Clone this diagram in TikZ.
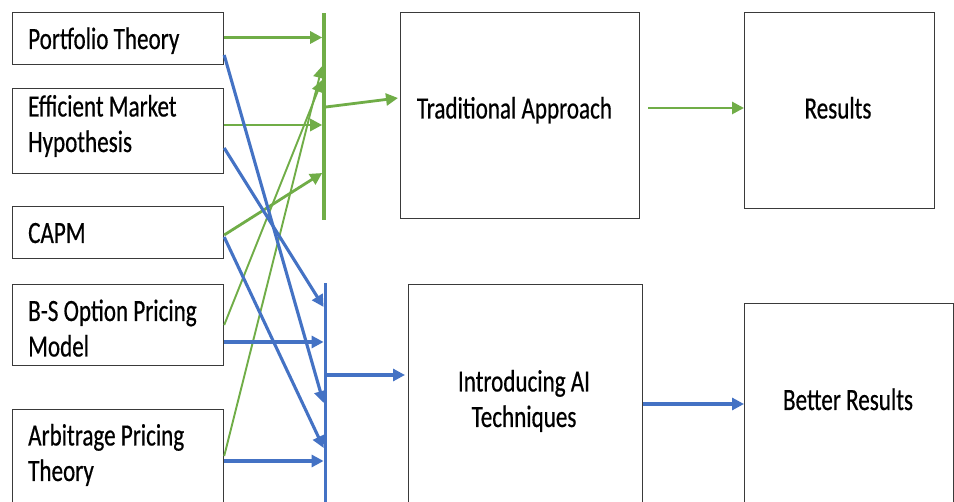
\documentclass[tikz,border=0pt]{standalone}
\usepackage{fontspec}
\setmainfont[FakeStretch=0.745,FakeBold=0.5]{Carlito}
\usetikzlibrary{arrows.meta,calc}
\definecolor{grn}{HTML}{70AD47}
\definecolor{blu}{HTML}{4472C4}
\definecolor{framec}{HTML}{3A3A3A}

\begin{document}
\begin{tikzpicture}[x=1pt,y={(0pt,-1pt)},
  box/.style={draw=framec,line width=1.2pt,inner sep=0pt,anchor=north west},
  txt/.style={font=\fontsize{31}{35.5}\selectfont,inner sep=0pt,text=black},
  garrow/.style={draw=grn,line width=2.8pt,-{Triangle[length=12pt,width=12pt]}},
  gthin/.style={draw=grn,line width=1.9pt,-{Triangle[length=12pt,width=12pt]}},
  barrow/.style={draw=blu,line width=3.1pt,-{Triangle[length=12pt,width=12pt]}},
  gbarstyle/.style={fill=grn,inner sep=0pt,minimum width=3.2pt,anchor=north},
  bbarstyle/.style={fill=blu,inner sep=0pt,minimum width=3.4pt,anchor=north}]
\clip (0,0) rectangle (954,502);
\fill[white] (0,0) rectangle (954,502);

% theory boxes on the left
\node[box,minimum width=211pt,minimum height=52pt] (pt) at (12,12) {};
\node[box,minimum width=211pt,minimum height=85pt] (emh) at (12,88) {};
\node[box,minimum width=211pt,minimum height=52pt] (capm) at (12,206) {};
\node[box,minimum width=211pt,minimum height=81pt] (bs) at (12,284) {};
\node[box,minimum width=211pt,minimum height=120pt] (apt) at (12,409) {};

% labels (a two-line node is placed by the baseline of its last line)
\node[txt,anchor=base west] (ptT) at (28,49) {Portfolio Theory};
\node[txt,anchor=base west,align=left] (emhT) at (28,152) {Efficient Market\\Hypothesis};
\node[txt,anchor=base west] (capmT) at (28,243) {CAPM};
\node[txt,anchor=base west,align=left] (bsT) at (28,356.5) {B-S Option Pricing\\Model};
\node[txt,anchor=base west,align=left] (aptT) at (28,481) {Arbitrage Pricing\\Theory};

% collecting bars
\node[gbarstyle,minimum height=207pt] (gbar) at (324,12.5) {};
\node[bbarstyle,minimum height=230pt] (bbar) at (325.5,283) {};

% approach and result boxes
\node[box,minimum width=239pt,minimum height=206pt] (trad) at (400,12) {};
\node[box,minimum width=190pt,minimum height=196pt] (res) at (744,12) {};
\node[box,minimum width=234pt,minimum height=240pt] (intro) at (408,284) {};
\node[box,minimum width=209pt,minimum height=240pt] (better) at (744,303) {};

\node[txt,anchor=base] (tradT) at (514.5,118.5) {Traditional Approach};
\node[txt,anchor=base] (resT) at (838,118.5) {Results};
\node[txt,anchor=base,align=center] (introT) at (524,427) {Introducing AI\\Techniques};
\node[txt,anchor=base] (betterT) at (848,410) {Better Results};

% arrow end points on the bars
\coordinate (g1) at (gbar.west |- 0,37.5);
\coordinate (g2) at (gbar.west |- 0,125);
\coordinate (g3) at (gbar.west |- 0,173);
\coordinate (g4) at (gbar.west |- 0,66);
\coordinate (g5) at (gbar.west |- 0,80);
\coordinate (gout) at (gbar.east |- 0,107);
\coordinate (b1) at (bbar.west |- 0,307);
\coordinate (b2) at (bbar.west |- 0,342);
\coordinate (b3) at (bbar.west |- 0,403);
\coordinate (b4) at (bbar.west |- 0,448);
\coordinate (b5) at (bbar.west |- 0,461);
\coordinate (bout) at (bbar.east |- 0,375);

% green connectors
\draw[garrow] ($(pt.north east)+(0,25.5)$) -- (g1);
\draw[garrow] ($(emh.north east)+(0,37)$) -- (g2);
\draw[garrow] ($(capm.north east)+(0,29)$) -- (g3);
\draw[gthin] ($(bs.north east)+(0,41)$) -- (g5);
\draw[gthin] ($(apt.north east)+(0,47)$) -- (g4);
\draw[garrow] (gout) -- ($(trad.north west)+(-2,86)$);
\draw[garrow] ($(trad.north east)+(8,96)$) -- (res.west |- 0,108);

% blue connectors
\draw[barrow] ($(pt.north east)+(0,43)$) -- (b3);
\draw[barrow] ($(emh.north east)+(0,60)$) -- (b1);
\draw[barrow] ($(capm.north east)+(0,31)$) -- (b4);
\draw[barrow] ($(bs.north east)+(0,58)$) -- (b2);
\draw[barrow] ($(apt.north east)+(0,52)$) -- (b5);
\draw[barrow] (bout) -- ($(intro.north west)+(-3,91)$);
\draw[barrow] ($(intro.north east)+(0,120)$) -- (better.west |- 0,404);
\end{tikzpicture}
\end{document}
